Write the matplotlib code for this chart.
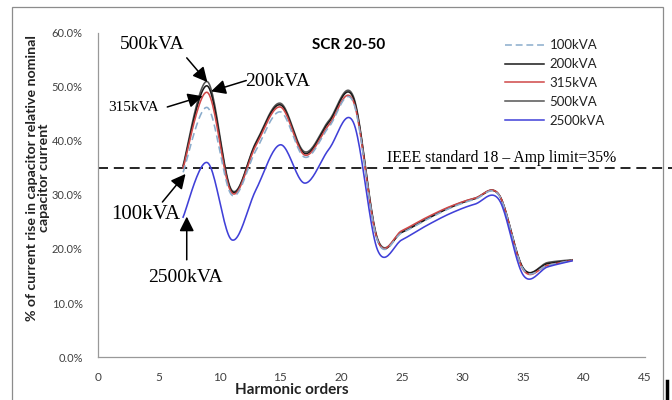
import matplotlib
matplotlib.use("Agg")
import matplotlib.pyplot as plt
import numpy as np
from matplotlib.lines import Line2D
from matplotlib.patches import Rectangle
from matplotlib.ticker import PercentFormatter

# harmonic orders and current rise (%) per transformer size
orders = [7, 9, 11, 13, 15, 17, 19, 21, 23, 25, 27, 29, 31, 33, 35, 37, 39]
kva100 = [34.2, 46.2, 30.0, 38.3, 45.4, 37.0, 42.6, 47.2, 21.5, 23.0, 25.4, 27.6, 29.2, 29.9, 16.2, 17.0, 17.9]
kva200 = [35.2, 50.2, 30.7, 39.6, 46.7, 37.7, 43.5, 48.0, 21.7, 23.1, 25.5, 27.7, 29.3, 30.0, 16.4, 17.3, 17.9]
kva315 = [35.0, 49.0, 30.4, 39.2, 46.3, 37.4, 43.0, 47.4, 21.6, 23.4, 25.8, 27.9, 29.4, 30.0, 16.1, 17.0, 17.9]
kva500 = [35.5, 51.0, 30.9, 39.8, 47.0, 38.0, 43.8, 48.3, 21.9, 23.2, 25.6, 27.8, 29.4, 30.0, 16.3, 17.5, 18.0]
kva2500 = [25.9, 36.0, 21.7, 31.0, 39.3, 32.2, 38.5, 43.5, 19.8, 21.7, 24.3, 26.6, 28.3, 29.1, 15.1, 16.7, 17.8]
amp_limit = 35.0

SERIES = [
    ("100kVA", kva100, "#8aaccc", (0, (4.5, 2.5))),
    ("200kVA", kva200, "#1a1a1a", "-"),
    ("315kVA", kva315, "#d04848", "-"),
    ("500kVA", kva500, "#555555", "-"),
    ("2500kVA", kva2500, "#4040d8", "-"),
]


def smooth_curve(x, y, steps=24):
    """Bezier smoothing through every point, tension 1/6 like spreadsheet charts."""
    pts = np.column_stack([x, y]).astype(float)
    n = len(pts)
    out = [pts[:1]]
    t = np.linspace(0, 1, steps)[1:, None]
    for i in range(n - 1):
        p0 = pts[max(i - 1, 0)]
        p1, p2 = pts[i], pts[i + 1]
        p3 = pts[min(i + 2, n - 1)]
        c1 = p1 + (p2 - p0) / 6
        c2 = p2 - (p3 - p1) / 6
        seg = (1 - t) ** 3 * p1 + 3 * (1 - t) ** 2 * t * c1 + 3 * (1 - t) * t ** 2 * c2 + t ** 3 * p2
        out.append(seg)
    curve = np.vstack(out)
    return curve[:, 0], curve[:, 1]


plt.rcParams["font.family"] = ["Lato", "DejaVu Sans"]
fig = plt.figure(figsize=(6.72, 4.0), dpi=100)
ax = fig.add_axes([98 / 672, 1 - 357 / 400, (645 - 98) / 672, (357 - 33) / 400])

# draw order: grey/black first, blue on top
for name in ("500kVA", "200kVA", "315kVA", "100kVA", "2500kVA"):
    label, values, color, style = next(s for s in SERIES if s[0] == name)
    xs, ys = smooth_curve(orders, values)
    ax.plot(xs, ys, color=color, linestyle=style, linewidth=1.15, zorder=3)

ax.plot([0, 47.5], [amp_limit, amp_limit], color="black", linestyle=(0, (6, 3.5)),
        linewidth=1.2, clip_on=False, zorder=2)

ax.set_xlim(0, 45)
ax.set_ylim(0, 60)
ax.set_xticks(range(0, 46, 5))
ax.set_yticks(range(0, 61, 10))
ax.yaxis.set_major_formatter(PercentFormatter(xmax=100, decimals=1))
ax.tick_params(length=0, labelsize=8, labelcolor="#404040")
ax.tick_params(axis="x", labelsize=8.5, pad=11)
ax.tick_params(axis="y", pad=11)
for side in ("top", "right"):
    ax.spines[side].set_visible(False)
for side in ("left", "bottom"):
    ax.spines[side].set_color("#999999")
    ax.spines[side].set_linewidth(0.9)

handles = [Line2D([], [], color=c, linestyle=ls, linewidth=1.1) for _, _, c, ls in SERIES]
fig.legend(handles, [s[0] for s in SERIES], loc="upper left",
           bbox_to_anchor=(500 / 672, 1 - 34 / 400), frameon=False, fontsize=9.5,
           handlelength=2.9, labelspacing=0.52, handletextpad=0.45, borderaxespad=0,
           labelcolor="#222222")

fig.text(349 / 672, 1 - 45 / 400, "SCR 20-50", ha="center", va="center",
         fontsize=11, fontweight="bold")
fig.text(292 / 672, 1 - 390 / 400, "Harmonic orders", ha="center", va="center",
         fontsize=11, fontweight="bold", color="#222222")
fig.text(38 / 672, 1 - 178 / 400,
         "% of current rise in capacitor relative nominal\ncapacitor current",
         ha="center", va="center", rotation=90, fontsize=10.2, fontweight="bold",
         color="#222222", linespacing=1.05)

serif = "Liberation Serif"
ax.text(42.6, amp_limit + 1.9, "IEEE standard 18 \u2013 Amp limit=35%", ha="right",
        va="center", fontsize=11.3, family=serif)

arrow = dict(arrowstyle="-|>", color="black", lw=1.1, mutation_scale=22,
             shrinkA=0, shrinkB=0)
# (text, text x, text y, fontsize, tail, tip) in harmonic order / percent
callouts = [
    ("500kVA", 4.5, 57.8, 14, (7.3, 55.4), (9.0, 50.9)),
    ("200kVA", 14.8, 51.0, 14, (12.2, 51.2), (9.3, 49.2)),
    ("315kVA", 2.9, 46.2, 11, (5.7, 46.3), (8.6, 48.3)),
    ("100kVA", 3.9, 26.3, 15, (5.3, 28.7), (7.2, 33.9)),
    ("2500kVA", 7.2, 14.8, 14, (7.3, 18.0), (7.3, 26.0)),
]
for text, tx, ty, size, tail, tip in callouts:
    ax.text(tx, ty, text, ha="center", va="center", fontsize=size, family=serif, zorder=5)
    ax.annotate("", xy=tip, xytext=tail, arrowprops=arrow, zorder=5)

# outer chart border
fig.add_artist(Rectangle((12 / 672, -0.1), (663 - 12) / 672, 1.1 - 7 / 400,
                         transform=fig.transFigure, fill=False, edgecolor="#8c8c8c",
                         linewidth=0.9))
fig.add_artist(Line2D([667 / 672, 667 / 672], [0, 1 - 381 / 400],
                      transform=fig.transFigure, color="black", linewidth=2.5))

fig.savefig("out.png", dpi=100)
